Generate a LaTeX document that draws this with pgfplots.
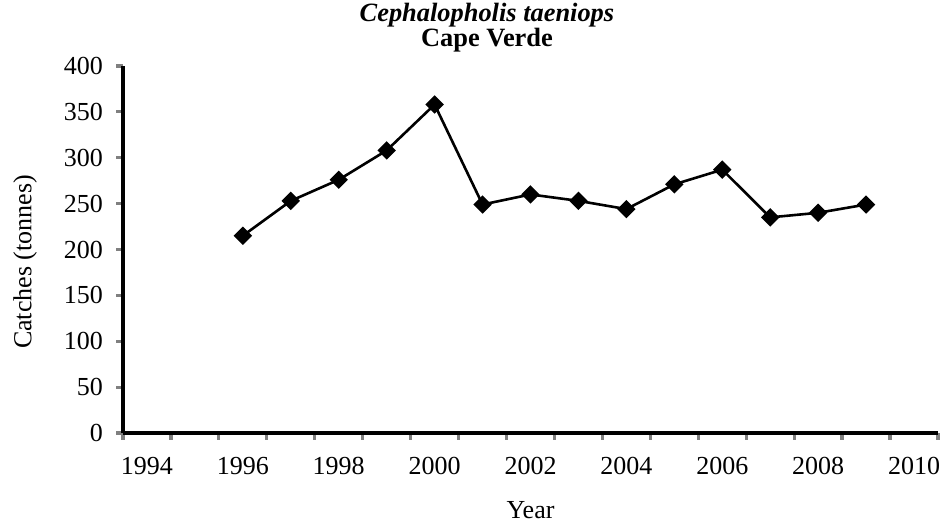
\documentclass[border=0pt]{standalone}
\usepackage{fontspec}
\setmainfont{Liberation Serif}
\usepackage{pgfplots}
\pgfplotsset{compat=1.18}
\begin{document}
\fontsize{13}{15}\selectfont
\begin{tikzpicture}
\useasboundingbox (-61.5pt,-44.5pt) rectangle (410.5pt,216.5pt);
\begin{axis}[
  scale only axis,
  width=407.5pt, height=183.5pt,
  at={(0,0)}, anchor=south west,
  axis lines*=left,
  axis line style={line width=1.6pt},
  xmin=1993.5, xmax=2010.5,
  ymin=0, ymax=400,
  xtick={1994,1996,...,2010},
  xticklabels={1994,1996,1998,2000,2002,2004,2006,2008,2010},
  minor xtick={1993.5,1994.5,...,2010.5},
  major x tick style={draw=none},
  minor x tick style={line width=1.6pt},
  minor tick length=3.5pt,
  ytick={0,50,...,400},
  y tick style={line width=1.6pt},
  major tick length=3.5pt,
  tick align=outside,
  /pgf/number format/assume math mode=true,
  ticklabel style={font=\fontsize{13}{15}\selectfont},
  xticklabel style={yshift=-4pt},
  yticklabel style={xshift=-2pt},
  xlabel={Year},
  ylabel={Catches (tonnes)},
  label style={font=\fontsize{13}{15}\selectfont},
  xlabel style={at={(axis description cs:0.5,-0.2098)}, anchor=center},
  ylabel style={at={(axis description cs:-0.120,0.466)}, anchor=center},
  title={\textbf{\textit{Cephalopholis taeniops}}},
  title style={at={(axis description cs:0.4466,1.0872)}, anchor=base, font=\fontsize{13.2}{15}\selectfont},
  clip=false,
]
\addplot[black, line width=1.3pt, mark=square*, mark size=2.6pt, mark options={rotate=45, solid}]
  coordinates {
  (1996,215) (1997,253) (1998,276) (1999,308) (2000,358)
  (2001,249) (2002,260) (2003,253) (2004,244) (2005,271)
  (2006,287) (2007,235) (2008,240) (2009,249)
  };
\node[anchor=base, font=\fontsize{13.2}{15}\selectfont\bfseries] at (axis description cs:0.4466,1.0518) {Cape Verde};
\end{axis}
\end{tikzpicture}
\end{document}
